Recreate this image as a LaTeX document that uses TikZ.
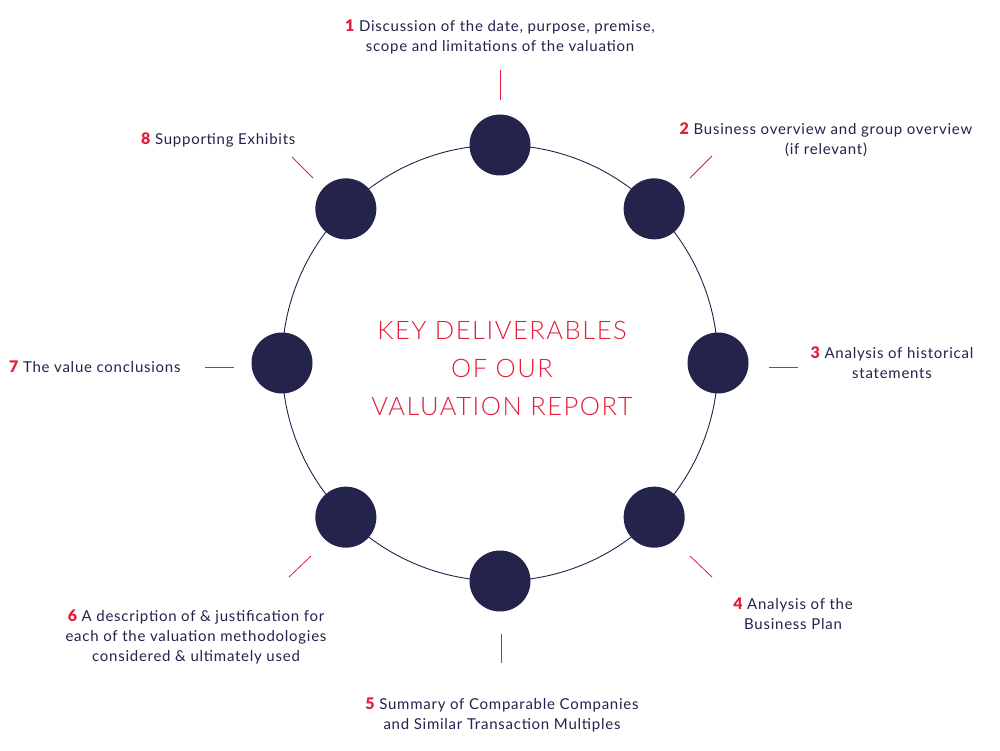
\documentclass[tikz,border=0pt]{standalone}
\usepackage{fontspec}
\usetikzlibrary{calc}
\setmainfont{Lato}[LetterSpace=5]
\newfontfamily\titlefont{Lato Light}[LetterSpace=6]
\newfontfamily\numfont{Lato Black}
\definecolor{navy}{HTML}{24234C}
\definecolor{kred}{HTML}{E41E3A}
\begin{document}
\begin{tikzpicture}[x=1pt,y=-1pt,
  dot/.style={circle,fill=navy,inner sep=0pt,minimum size=61pt},
  lbl/.style={align=center,text=navy,font=\fontsize{15}{20}\selectfont,inner sep=0pt},
  tick/.style={draw=kred,line width=0.8pt}]
\newcommand{\nm}[1]{{\color{kred}\numfont\fontsize{16}{20}\selectfont #1}}
\useasboundingbox (0,0) rectangle (1000,751);
\fill[white] (0,0) rectangle (1000,751);
\node[circle,draw=navy,line width=0.9pt,minimum size=436pt,inner sep=0pt] (ring) at (500,363) {};
\foreach \i/\a in {1/90,2/45,3/0,4/-45,5/-90,6/-135,7/180,8/135}{
  \node[dot] (c\i) at ($(500,363)+(\a:218pt)$) {};
}
\node[text=kred,align=center,font=\titlefont\fontsize{25.5}{38}\selectfont,inner sep=0pt] (title) at (502,368)
  {KEY DELIVERABLES\\OF OUR\\VALUATION REPORT};
\node[lbl] (t1) at (500,37) {\nm{1} Discussion of the date, purpose, premise,\\scope and limitations of the valuation};
\node[lbl] (t2) at (826,140) {\nm{2} Business overview and group overview\\(if relevant)};
\node[lbl] (t3) at (892,363) {\nm{3} Analysis of historical\\statements};
\node[lbl] (t4) at (793,614) {\nm{4} Analysis of the\\Business Plan};
\node[lbl] (t5) at (502,715) {\nm{5} Summary of Comparable Companies\\and Similar Transaction Multiples};
\node[lbl] (t6) at (196,637) {\nm{6} A description of \& justification for\\each of the valuation methodologies\\considered \& ultimately used};
\node[lbl,anchor=west] (t7) at (9,367) {\nm{7} The value conclusions};
\node[lbl,anchor=west] (t8) at (141,140) {\nm{8} Supporting Exhibits};
\coordinate (a1) at (500,70); \coordinate (b1) at (500,100);
\coordinate (a2) at (712,156); \coordinate (b2) at (690,178);
\coordinate (a3) at (798,367); \coordinate (b3) at (769,367);
\coordinate (a4) at (712,577); \coordinate (b4) at (690,556);
\coordinate (a5) at (501,663); \coordinate (b5) at (501,634);
\coordinate (a6) at (289,577); \coordinate (b6) at (311,556);
\coordinate (a7) at (205,367); \coordinate (b7) at (234,367);
\coordinate (a8) at (292,157); \coordinate (b8) at (313,178);
\foreach \i in {1,...,8}{\draw[tick] (a\i) -- (b\i);}
\end{tikzpicture}
\end{document}
